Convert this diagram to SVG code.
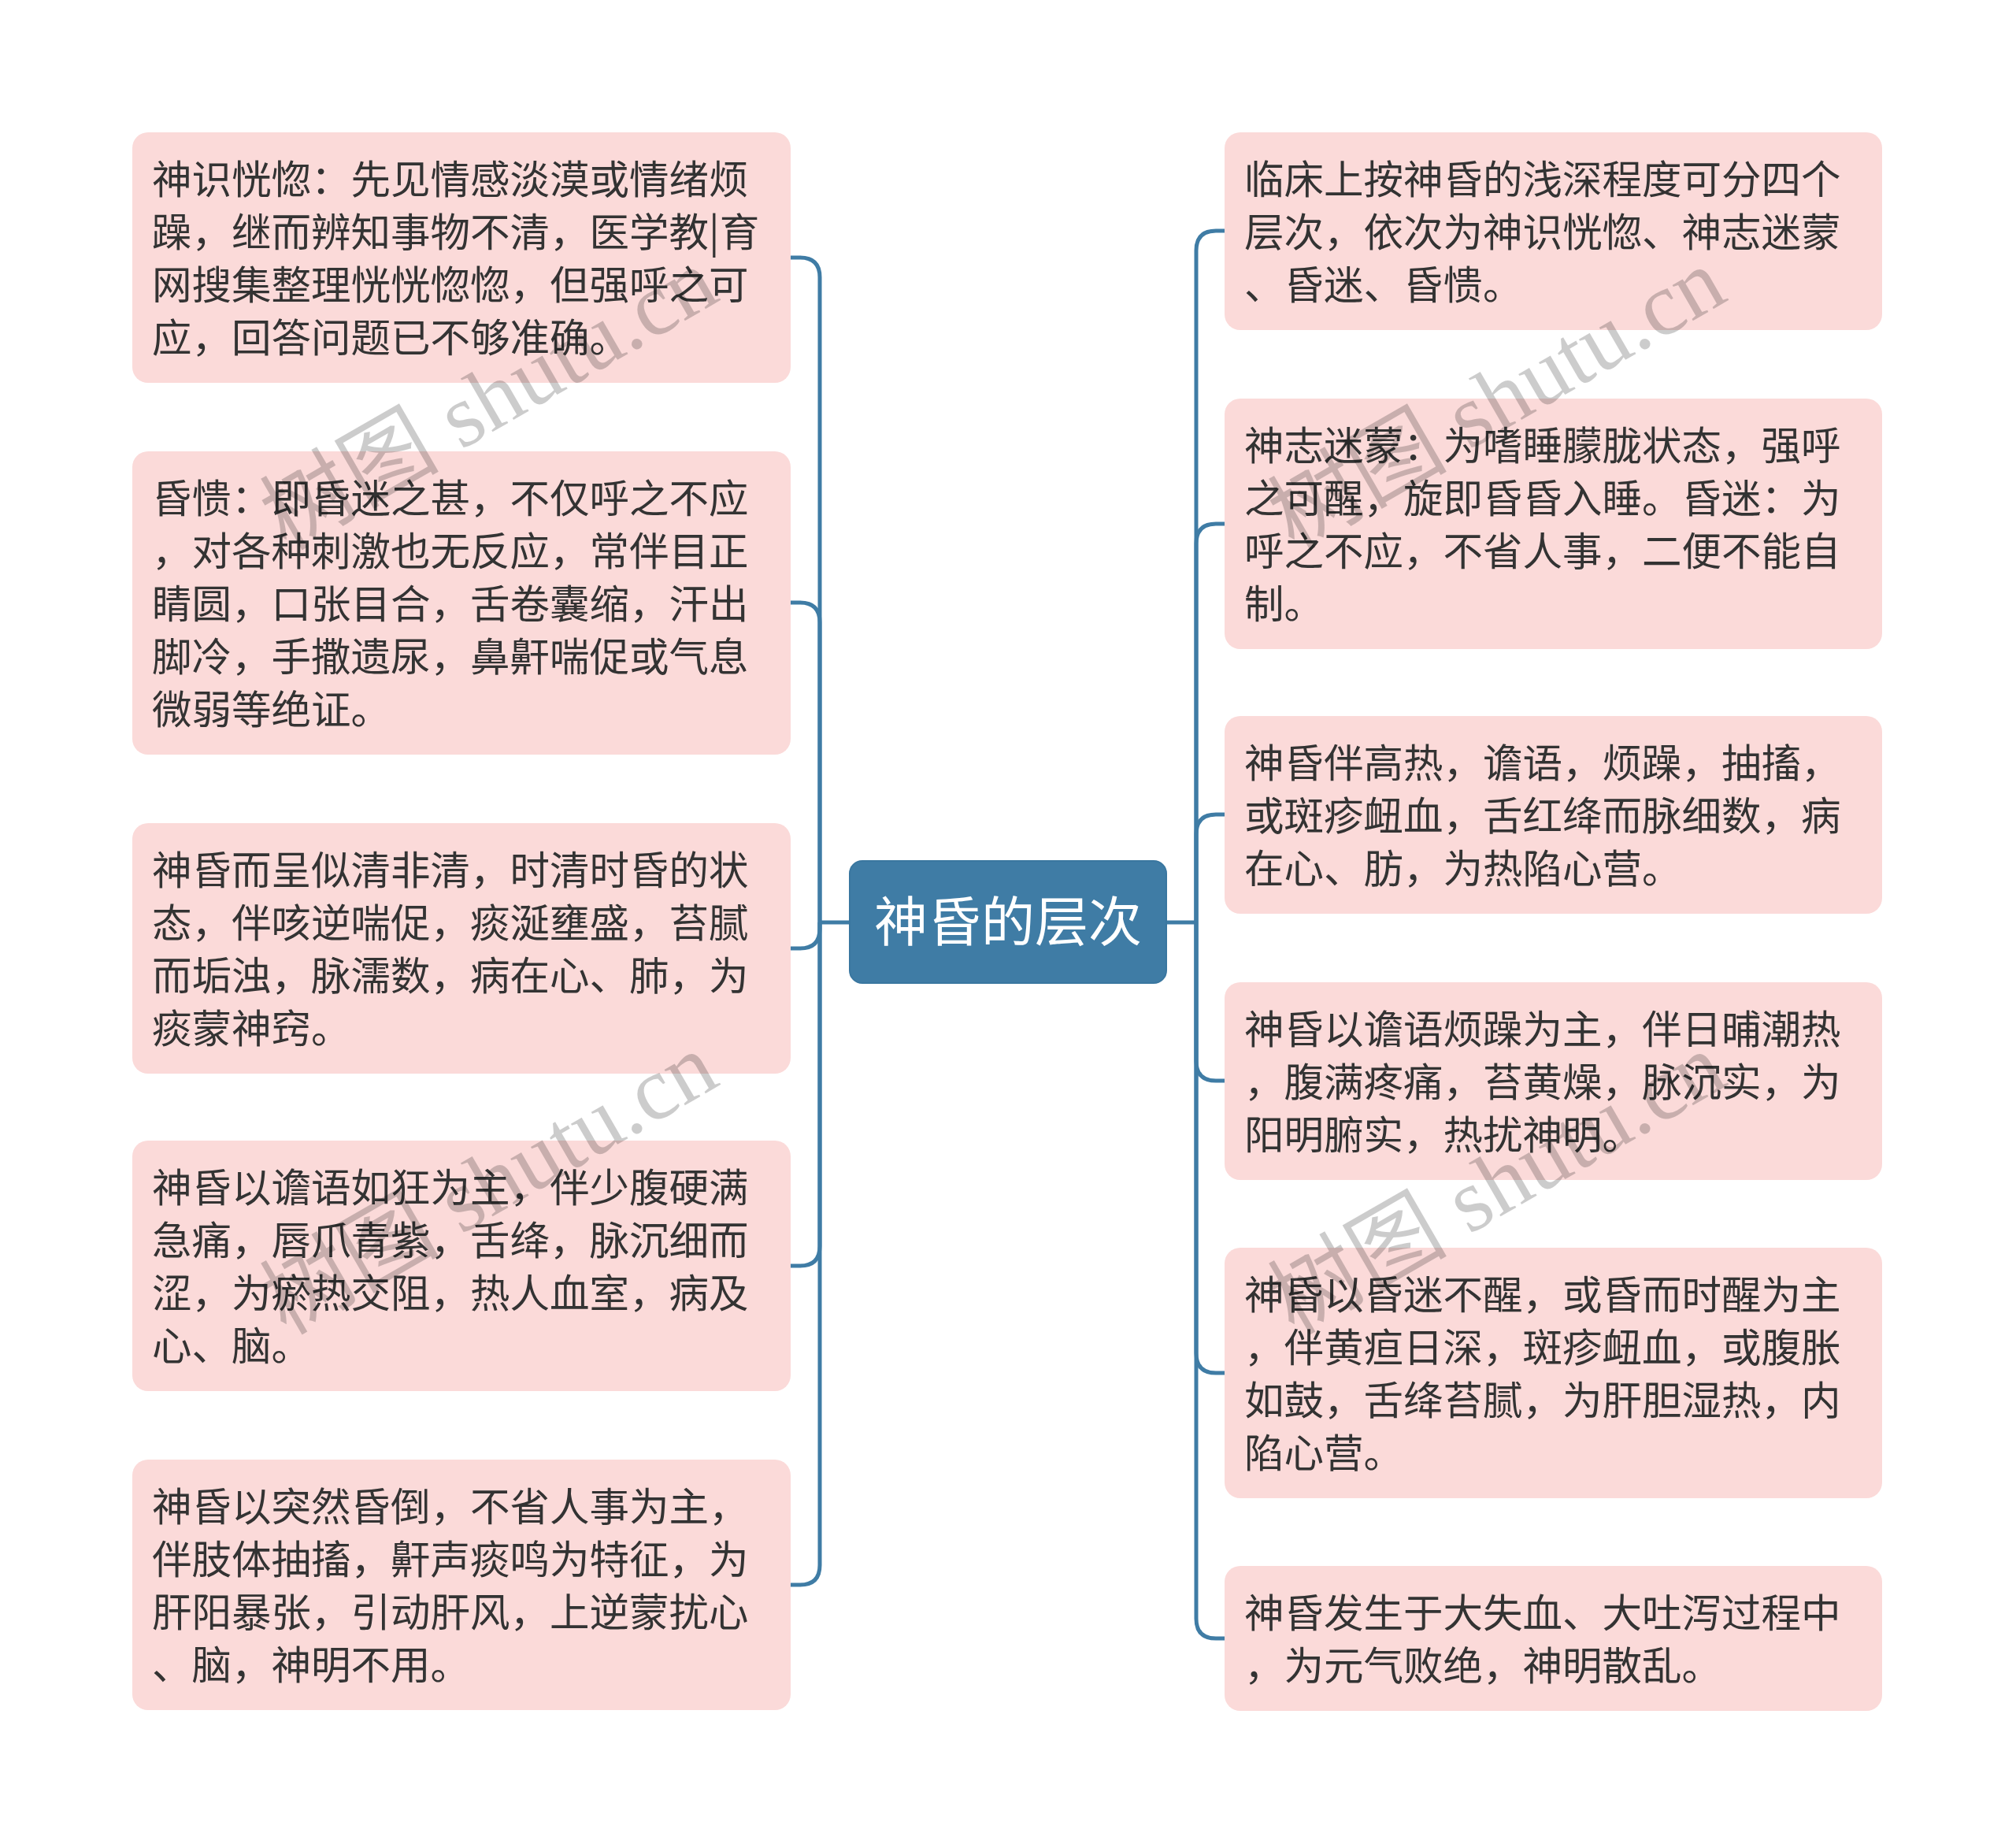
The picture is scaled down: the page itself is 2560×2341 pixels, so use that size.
<svg xmlns="http://www.w3.org/2000/svg" width="2560" height="2341" viewBox="0 0 2560 2341">
<style>
.bg{fill:#ffffff}
.node rect{fill:#fbdad9}
.node text{font-family:"Noto Sans CJK SC","Noto Sans",sans-serif;font-size:50.5px;fill:#333333}
.root rect{fill:#3f7ca5;stroke:#3a77a0;stroke-width:2}
.root text{font-family:"Noto Sans CJK SC","Noto Sans",sans-serif;font-size:68px;fill:#ffffff}
.conn path{fill:none;stroke:#3f7ca5;stroke-width:5}
.wm{font-family:"Liberation Serif","Noto Sans CJK SC",serif;font-size:114px;fill:#000000;fill-opacity:0.2}
</style>
<rect class="bg" x="0" y="0" width="2560" height="2341"/>

<g id="connectors" class="conn">
  <path d="M1079 1171 H1041"/>
  <path d="M1041 1171 V352 Q1041 327 1016 327 H1004"/>
  <path d="M1041 1171 V790 Q1041 765 1016 765 H1004"/>
  <path d="M1041 1171 V1179 Q1041 1204 1016 1204 H1004"/>
  <path d="M1041 1171 V1582 Q1041 1607 1016 1607 H1004"/>
  <path d="M1041 1171 V1987 Q1041 2012 1016 2012 H1004"/>
  <path d="M1481 1171 H1519"/>
  <path d="M1519 1171 V318 Q1519 293 1544 293 H1555"/>
  <path d="M1519 1171 V690 Q1519 665 1544 665 H1555"/>
  <path d="M1519 1171 V1059 Q1519 1034 1544 1034 H1555"/>
  <path d="M1519 1171 V1347 Q1519 1372 1544 1372 H1555"/>
  <path d="M1519 1171 V1718 Q1519 1743 1544 1743 H1555"/>
  <path d="M1519 1171 V2055 Q1519 2080 1544 2080 H1555"/>
</g>

<g id="root" class="root">
  <rect x="1079" y="1093" width="402" height="155" rx="16"/>
  <text x="1280" y="1195" text-anchor="middle">神昏的层次</text>
</g>

<g id="L1" class="node">
  <rect x="168" y="168" width="836" height="318" rx="20"/>
  <text><tspan x="193" y="246">神识恍惚：先见情感淡漠或情绪烦</tspan><tspan x="193" y="313">躁，继而辨知事物不清，医学教|育</tspan><tspan x="193" y="380">网搜集整理恍恍惚惚，但强呼之可</tspan><tspan x="193" y="447">应，回答问题已不够准确。</tspan></text>
</g>
<g id="L2" class="node">
  <rect x="168" y="573" width="836" height="385" rx="20"/>
  <text><tspan x="193" y="651">昏愦：即昏迷之甚，不仅呼之不应</tspan><tspan x="193" y="718">，对各种刺激也无反应，常伴目正</tspan><tspan x="193" y="785">睛圆，口张目合，舌卷囊缩，汗出</tspan><tspan x="193" y="852">脚冷，手撒遗尿，鼻鼾喘促或气息</tspan><tspan x="193" y="919">微弱等绝证。</tspan></text>
</g>
<g id="L3" class="node">
  <rect x="168" y="1045" width="836" height="318" rx="20"/>
  <text><tspan x="193" y="1123">神昏而呈似清非清，时清时昏的状</tspan><tspan x="193" y="1190">态，伴咳逆喘促，痰涎壅盛，苔腻</tspan><tspan x="193" y="1257">而垢浊，脉濡数，病在心、肺，为</tspan><tspan x="193" y="1324">痰蒙神窍。</tspan></text>
</g>
<g id="L4" class="node">
  <rect x="168" y="1448" width="836" height="318" rx="20"/>
  <text><tspan x="193" y="1526">神昏以谵语如狂为主，伴少腹硬满</tspan><tspan x="193" y="1593">急痛，唇爪青紫，舌绛，脉沉细而</tspan><tspan x="193" y="1660">涩，为瘀热交阻，热人血室，病及</tspan><tspan x="193" y="1727">心、脑。</tspan></text>
</g>
<g id="L5" class="node">
  <rect x="168" y="1853" width="836" height="318" rx="20"/>
  <text><tspan x="193" y="1931">神昏以突然昏倒，不省人事为主，</tspan><tspan x="193" y="1998">伴肢体抽搐，鼾声痰鸣为特征，为</tspan><tspan x="193" y="2065">肝阳暴张，引动肝风，上逆蒙扰心</tspan><tspan x="193" y="2132">、脑，神明不用。</tspan></text>
</g>

<g id="R1" class="node">
  <rect x="1555" y="168" width="835" height="251" rx="20"/>
  <text><tspan x="1580" y="246">临床上按神昏的浅深程度可分四个</tspan><tspan x="1580" y="313">层次，依次为神识恍惚、神志迷蒙</tspan><tspan x="1580" y="380">、昏迷、昏愦。</tspan></text>
</g>
<g id="R2" class="node">
  <rect x="1555" y="506" width="835" height="318" rx="20"/>
  <text><tspan x="1580" y="584">神志迷蒙：为嗜睡朦胧状态，强呼</tspan><tspan x="1580" y="651">之可醒，旋即昏昏入睡。昏迷：为</tspan><tspan x="1580" y="718">呼之不应，不省人事，二便不能自</tspan><tspan x="1580" y="785">制。</tspan></text>
</g>
<g id="R3" class="node">
  <rect x="1555" y="909" width="835" height="251" rx="20"/>
  <text><tspan x="1580" y="987">神昏伴高热，谵语，烦躁，抽搐，</tspan><tspan x="1580" y="1054">或斑疹衄血，舌红绛而脉细数，病</tspan><tspan x="1580" y="1121">在心、肪，为热陷心营。</tspan></text>
</g>
<g id="R4" class="node">
  <rect x="1555" y="1247" width="835" height="251" rx="20"/>
  <text><tspan x="1580" y="1325">神昏以谵语烦躁为主，伴日晡潮热</tspan><tspan x="1580" y="1392">，腹满疼痛，苔黄燥，脉沉实，为</tspan><tspan x="1580" y="1459">阳明腑实，热扰神明。</tspan></text>
</g>
<g id="R5" class="node">
  <rect x="1555" y="1584" width="835" height="318" rx="20"/>
  <text><tspan x="1580" y="1662">神昏以昏迷不醒，或昏而时醒为主</tspan><tspan x="1580" y="1729">，伴黄疸日深，斑疹衄血，或腹胀</tspan><tspan x="1580" y="1796">如鼓，舌绛苔腻，为肝胆湿热，内</tspan><tspan x="1580" y="1863">陷心营。</tspan></text>
</g>
<g id="R6" class="node">
  <rect x="1555" y="1988" width="835" height="184" rx="20"/>
  <text><tspan x="1580" y="2066">神昏发生于大失血、大吐泻过程中</tspan><tspan x="1580" y="2133">，为元气败绝，神明散乱。</tspan></text>
</g>

<g id="watermarks">
  <text class="wm" x="640" y="540" text-anchor="middle" transform="rotate(-30 640 540)">树图 shutu.cn</text>
  <text class="wm" x="640" y="1536" text-anchor="middle" transform="rotate(-30 640 1536)">树图 shutu.cn</text>
  <text class="wm" x="1920" y="540" text-anchor="middle" transform="rotate(-30 1920 540)">树图 shutu.cn</text>
  <text class="wm" x="1920" y="1536" text-anchor="middle" transform="rotate(-30 1920 1536)">树图 shutu.cn</text>
</g>
</svg>
